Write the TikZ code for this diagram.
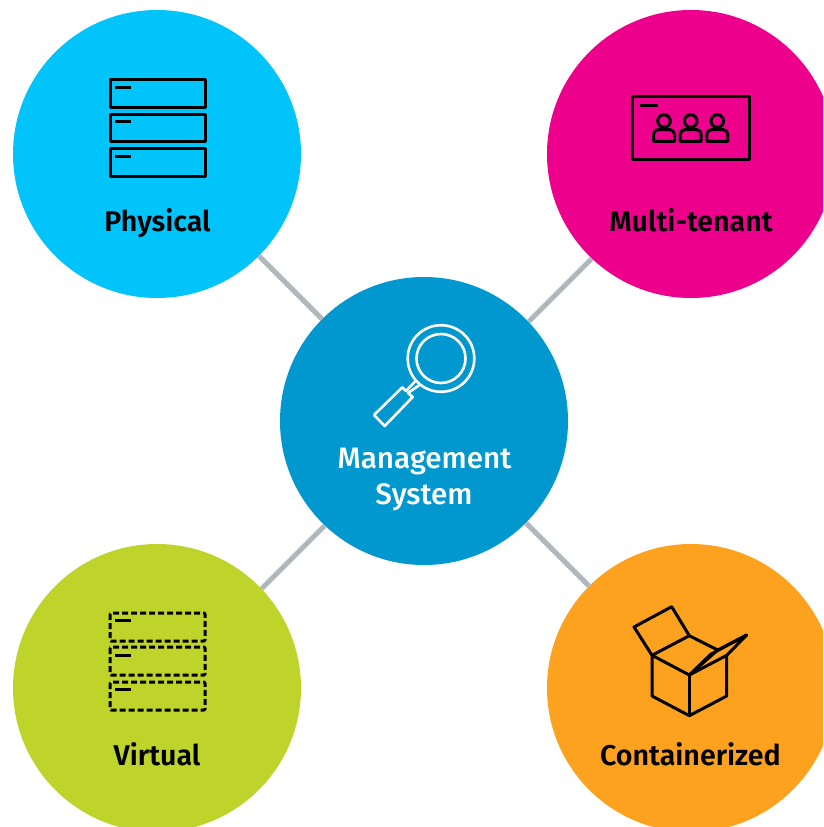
\documentclass[tikz,border=0pt]{standalone}
\usepackage{fontspec}
\setmainfont{Fira Sans}[UprightFont=* Medium]
\newfontface\heavyface{Fira Sans SemiBold}
\tikzset{
  x=1pt,y=-1pt,
  hub/.style={circle,minimum size=288pt,inner sep=0pt,fill=#1},
  link/.style={draw=linkgrey,line width=5pt},
  label/.style={font=\heavyface\fontsize{28.6}{34}\selectfont,inner sep=0pt,anchor=base,text=black},
  wlabel/.style={font=\fontsize{29.6}{36}\selectfont,inner sep=0pt,anchor=base,text=white},
  ink/.style={draw=black,line width=3pt,line join=round},
  inkw/.style={draw=white,line width=2.6pt,line join=round},
  vdash/.style={ink,dash pattern=on 6pt off 3pt,rounded corners=1pt}
}
\definecolor{linkgrey}{HTML}{B0B8BB}
\definecolor{cphys}{HTML}{00C4FA}
\definecolor{cmulti}{HTML}{EC008C}
\definecolor{cmgmt}{HTML}{0098CE}
\definecolor{cvirt}{HTML}{BFD42B}
\definecolor{ccont}{HTML}{FDA21E}
\begin{document}
\begin{tikzpicture}
\clip (0,0) rectangle (823,827);
\fill[white] (0,0) rectangle (823,827);
\node[hub=cphys] (phys) at (157,154) {};
\node[hub=cmulti] (multi) at (691,154) {};
\node[hub=cmgmt] (mgmt) at (424,421) {};
\node[hub=cvirt] (virt) at (157,688) {};
\node[hub=ccont] (cont) at (691,688) {};
\draw[link] (phys) -- (mgmt);
\draw[link,transform canvas={shift={(2.7pt,-2.7pt)}}] (multi) -- (mgmt);
\draw[link,transform canvas={shift={(2.7pt,-2.7pt)}}] (virt) -- (mgmt);
\draw[link] (cont) -- (mgmt);
% labels
\node[label] (lphys) at (157.5,231) {Physical};
\node[label] (lmulti) at (691,231) {Multi-tenant};
\node[wlabel] (lmgmt) at (424.5,468) {Management};
\node[wlabel] (lsys) at (424,504) {System};
\node[label] (lvirt) at (157,765) {Virtual};
\node[label] (lcont) at (690.5,765) {Containerized};
% physical icon
\foreach \t/\d in {79.5/87,114/121.5,148.5/156}{
  \draw[ink] (110,\t) rectangle (205,\t+27.5);
  \draw[ink] (115,\d) -- (131,\d);
}
% virtual icon
\foreach \t/\d in {613/620.7,647/655,682/689.5}{
  \draw[vdash] (110,\t) rectangle (205,\t+28);
  \draw[ink] (115,\d) -- (131,\d);
}
% multi-tenant icon
\draw[ink] (632.5,96.5) rectangle (749,159);
\draw[ink] (639.5,105.5) -- (658,105.5);
\foreach \c in {664,690.7,717.3}{
  \draw[ink] (\c,121) circle (6.3pt);
  \draw[ink,line cap=round] (\c-10.5,141.3) -- (\c+10.5,141.3)
    [rounded corners=5pt] -- (\c+10.5,129.5) -- (\c-10.5,129.5) -- (\c-10.5,141.3);
}
% magnifier
\draw[inkw] (441,358.5) circle (33.3pt);
\draw[inkw] (441,358.5) circle (24.5pt);
\draw[inkw] (374,415) -- (402.3,387.3) -- (406,391) -- (415.5,381);
\draw[inkw] (374,415) -- (384.7,426) -- (412.7,397) -- (408,393) -- (419.5,385);
% box
\draw[ink] (652,655.3) -- (689.3,675) -- (726.7,655.3) -- (726.7,696) -- (689.3,715.7) -- (652,696) -- cycle;
\draw[ink] (689.3,675) -- (689.3,715.7);
\draw[ink] (652,655.3) -- (634,627) -- (671.7,606.7) -- (689.3,635.7) -- cycle;
\draw[ink] (689.3,635.7) -- (717.7,650);
\draw[ink] (689.3,675) -- (710.7,654.3) -- (746.7,635) -- (726.7,655.3);
\draw[ink] (689.3,675) -- (717.7,650) -- (746.7,635);
\end{tikzpicture}
\end{document}
